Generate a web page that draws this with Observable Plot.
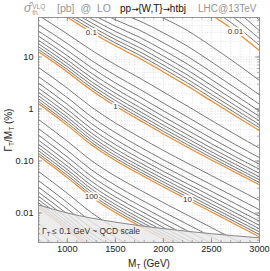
<!DOCTYPE html>
<html><head><meta charset="utf-8">
<script src="https://cdn.jsdelivr.net/npm/d3@7"></script>
<script src="https://cdn.jsdelivr.net/npm/@observablehq/plot@0.6"></script>
<style>
html,body{margin:0;padding:0;background:#fff;}
#wrap{position:relative;width:270px;height:271px;font-family:"Liberation Sans",Arial,sans-serif;}
#chart svg{display:block;}
.tt{position:absolute;top:2px;font-size:10px;white-space:nowrap;line-height:13px;}
.g{color:#959595;}
.k{color:#111;}
.ar{font-family:"DejaVu Sans",sans-serif;font-size:8.5px;}
.sg{font-size:12px;font-style:italic;}
.st{display:inline-block;vertical-align:-3px;font-size:6.5px;line-height:6.5px;margin-left:1px;}
</style></head><body>
<div id="wrap">
<div id="chart"></div>
<div class="tt g" style="left:24px"><span class="sg">σ̂</span><span class="st">VLQ<br>th</span></div>
<div class="tt g" style="left:57px;word-spacing:3px;font-size:10.5px">[pb] @ LO</div>
<div class="tt k" style="left:120px">pp<span class="ar">→</span>{W,T}<span class="ar">→</span>htbj</div>
<div class="tt g" style="left:198px">LHC@13TeV</div>
</div>
<script>
// ---- data ----
const massNodes = [700, 1000, 1250, 1500, 1750, 2000, 2250, 2500, 2750, 3000];
// log10(sigma [pb]) at Gamma/M = 1 %
const logSigmaAt1pct = [1.10, 0.68, 0.31, 0.01, -0.25, -0.50, -0.74, -0.98, -1.22, -1.46];
// slope d log(sigma) / d log(Gamma/M) reached in the wide-width region
const wideWidthSlope = [1.00, 0.94, 0.85, 0.77, 0.68, 0.60, 0.52, 0.45, 0.37, 0.29];
const decades = [-3, -2, -1, 0, 1, 2, 3];
const multipliers = [1, 2, 3, 4, 5, 6, 7, 8, 9];
const labelLevels = [0.1, 0.01, 1, 100, 10];
const labelMass = [1250, 2750, 1500, 1250, 2250];
const labelText = ["0.1", "0.01", "1", "100", "10"];
const qcdMass = [700, 1000, 1500, 2000, 2500, 3000];
const qcdRatio = [0.01429, 0.01, 0.00667, 0.005, 0.004, 0.00333];
const xTickValues = [1000, 1500, 2000, 2500, 3000];
const xTickLabels = ["1000", "1500", "2000", "2500", "3000"];
const yTickValues = [10, 1, 0.1, 0.01];
const yTickLabels = ["10", "1", "0.10", "0.01"];

// ---- build contour lines from the read values ----
const L0 = -1, L1 = 1.75, span = L1 - L0;
function S(l){ if (l <= L0) return 0; if (l >= L1) return span / 2 + (l - L1); return (l - L0) * (l - L0) / (2 * span); }
function h(l, p){ return l + (p - 1) * S(l); }
function solve(u, p){ let lo = -8, hi = 8; for (let k = 0; k < 60; k++){ const m = (lo + hi) / 2; if (h(m, p) < u) lo = m; else hi = m; } return (lo + hi) / 2; }
function ratioAt(level, i){ const u = logSigmaAt1pct[i] - Math.log10(level); return Math.pow(10, solve(u, wideWidthSlope[i])); }

const contour = [];
for (const n of decades) for (const k of multipliers) {
  const level = k * Math.pow(10, n);
  massNodes.forEach((M, i) => contour.push({M, r: ratioAt(level, i), level, major: k === 1}));
}
const minor = contour.filter(d => !d.major), major = contour.filter(d => d.major);
const labels = labelLevels.map((c, j) => ({M: labelMass[j], r: ratioAt(c, massNodes.indexOf(labelMass[j])), t: labelText[j]}));
const qcd = qcdMass.map((M, i) => ({M, r: qcdRatio[i]}));

const W = 270, H = 271, mL = 38, mR = 11, mT = 17, mB = 29;
const fw = W - mL - mR, fh = H - mT - mB;
const yDom = [0.00271, 57.5];
const xMinor = d3.range(700, 3001, 100);
const yMinor = [];
for (let n = -3; n <= 1; n++) for (let k = 1; k <= 9; k++) { const v = k * Math.pow(10, n); if (v >= yDom[0] && v <= yDom[1]) yMinor.push(v); }
const tickC = "#7a7a7a";

const chart = Plot.plot({
  width: W, height: H, marginLeft: mL, marginRight: mR, marginTop: mT, marginBottom: mB,
  style: {fontFamily: "Liberation Sans, Arial, sans-serif", background: "white"},
  x: {domain: [700, 3000], axis: null},
  y: {type: "log", domain: yDom, axis: null},
  marks: [
    Plot.ruleX(xMinor, {x: d => d, stroke: "#cfcfcf", strokeWidth: 0.6, strokeDasharray: "1,1.6"}),
    Plot.ruleY(yMinor, {y: d => d, stroke: "#cfcfcf", strokeWidth: 0.6, strokeDasharray: "1,1.6"}),
    Plot.line(minor, {x: "M", y: "r", z: "level", stroke: "#4d4d4d", strokeWidth: 0.75, curve: "monotone-x", clip: true}),
    Plot.line(major, {x: "M", y: "r", z: "level", stroke: "#f0892b", strokeWidth: 1.2, curve: "monotone-x", clip: true}),
    Plot.areaY(qcd, {x: "M", y1: yDom[0], y2: "r", fill: "#e9e9e9", fillOpacity: 0.8, curve: "monotone-x"}),
    Plot.line(qcd, {x: "M", y: "r", stroke: "#7d7d7d", strokeWidth: 0.9, curve: "monotone-x"}),
    Plot.text(labels, {x: "M", y: "r", text: "t", fontSize: 8, fill: "#333", stroke: "white", strokeWidth: 3.5}),
    Plot.tickX(xMinor, {x: d => d, insetTop: fh - 2, stroke: tickC, strokeWidth: 0.6}),
    Plot.tickX(xTickValues, {x: d => d, insetTop: fh - 4, stroke: tickC, strokeWidth: 0.7}),
    Plot.tickX(xMinor, {x: d => d, insetBottom: fh - 2, stroke: tickC, strokeWidth: 0.6}),
    Plot.tickX(xTickValues, {x: d => d, insetBottom: fh - 4, stroke: tickC, strokeWidth: 0.7}),
    Plot.tickY(yMinor, {y: d => d, insetRight: fw - 2, stroke: tickC, strokeWidth: 0.6}),
    Plot.tickY(yTickValues, {y: d => d, insetRight: fw - 4, stroke: tickC, strokeWidth: 0.7}),
    Plot.tickY(yMinor, {y: d => d, insetLeft: fw - 2, stroke: tickC, strokeWidth: 0.6}),
    Plot.tickY(yTickValues, {y: d => d, insetLeft: fw - 4, stroke: tickC, strokeWidth: 0.7}),
    Plot.frame({stroke: "#8a8a8a", strokeWidth: 0.9}),
    Plot.text(xTickValues, {x: d => d, frameAnchor: "bottom", dy: 3, lineAnchor: "top", text: (d, i) => xTickLabels[i], fontSize: 9.2, fill: "#222"}),
    Plot.text(yTickValues, {y: d => d, frameAnchor: "left", dx: -5, textAnchor: "end", text: (d, i) => yTickLabels[i], fontSize: 9.2, fill: "#222"})
  ]
});
document.getElementById("chart").appendChild(chart);

const svg = d3.select(chart);
const fam = "Liberation Sans, Arial, sans-serif";
const xl = svg.append("text").attr("x", 149).attr("y", 267).attr("text-anchor", "middle")
  .attr("font-size", 10).attr("font-family", fam).attr("fill", "#222");
xl.append("tspan").text("M");
xl.append("tspan").attr("font-size", 6.5).attr("dy", 2).text("T");
xl.append("tspan").attr("dy", -2).text(" (GeV)");
const yl = svg.append("text").attr("transform", "translate(12,130) rotate(-90)").attr("text-anchor", "middle")
  .attr("font-size", 10).attr("font-family", fam).attr("fill", "#222");
yl.append("tspan").text("Γ");
yl.append("tspan").attr("font-size", 6.5).attr("dy", 2).text("T");
yl.append("tspan").attr("dy", -2).text("/M");
yl.append("tspan").attr("font-size", 6.5).attr("dy", 2).text("T");
yl.append("tspan").attr("dy", -2).text(" (%)");
const an = svg.append("text").attr("x", 42).attr("y", 234).attr("text-anchor", "start")
  .attr("font-size", 8.4).attr("font-family", fam).attr("fill", "#333");
an.append("tspan").text("Γ");
an.append("tspan").attr("font-size", 5.5).attr("dy", 1.5).text("T");
an.append("tspan").attr("dy", -1.5).text(" ≤ 0.1 GeV ~ QCD scale");
</script>
</body></html>
